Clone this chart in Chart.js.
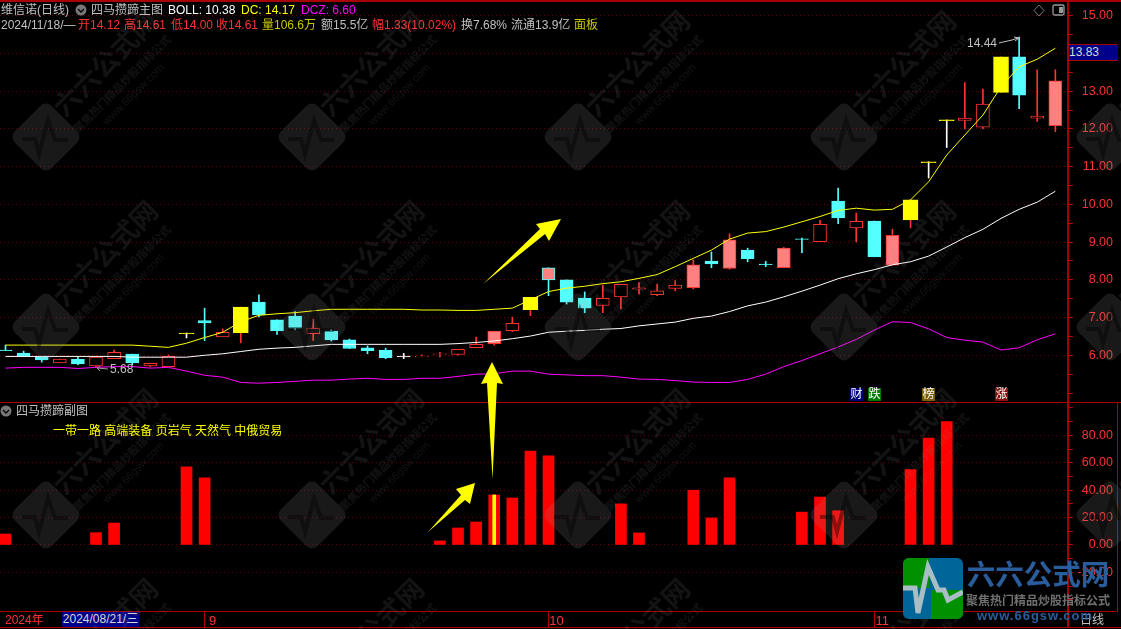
<!DOCTYPE html>
<html>
<head>
<meta charset="utf-8">
<title>四马攒蹄</title>
<script src="https://cdn.jsdelivr.net/npm/chart.js"></script>
<style>
    html, body { margin: 0; background: #000; width: 1121px; height: 629px; overflow: hidden; }
    canvas { position: absolute; left: 0; }
    #mainChart { top: 0; }
    #subChart { top: 403px; }
    .line { position: absolute; background: #a80000; }
    .txt { position: absolute; white-space: pre; font: 12px 'Liberation Sans', 'Noto Sans CJK SC', sans-serif; line-height: 14px; }
    svg { position: absolute; left: 0; top: 0; pointer-events: none; }
</style>
</head>
<body>
<canvas id="mainChart" width="1121" height="403"></canvas>
<canvas id="subChart" width="1121" height="226"></canvas>
<div id="frame"></div>
<div id="labels"></div>
<svg id="overlay" width="1121" height="629"></svg>

<script>
// Candles, index 0 = first bar on the left
const opens = [6.14, 6.06, 5.96, 5.80, 5.89, 5.72, 5.91, 6.03, 5.72, 5.70,
    6.59, 6.92, 6.49, 6.60, 7.41, 6.94, 7.04, 6.57, 6.64, 6.41,
    6.20, 6.14, 5.98, 5.96, 6.02, 6.02, 6.20, 6.31, 6.65, 7.21,
    8.00, 8.00, 7.52, 7.32, 7.55, 7.75, 7.61, 7.77, 7.79, 8.50,
    8.30, 8.79, 8.42, 8.32, 9.09, 9.01, 10.09, 9.38, 9.56, 8.39,
    9.59, 11.13, 12.24, 12.23, 12.05, 12.97, 13.91, 12.29, 12.09];
const closes = [6.12, 5.97, 5.88, 5.90, 5.77, 5.95, 6.08, 5.80, 5.79, 5.97,
    6.57, 6.86, 6.61, 7.28, 7.07, 6.65, 6.72, 6.72, 6.41, 6.18,
    6.12, 5.94, 5.96, 5.98, 6.04, 6.16, 6.29, 6.64, 6.85, 7.54,
    8.32, 7.41, 7.25, 7.51, 7.88, 7.79, 7.71, 7.86, 8.40, 8.42,
    9.06, 8.56, 8.40, 8.84, 9.07, 9.47, 9.64, 9.55, 8.61, 9.18,
    10.12, 11.11, 12.22, 12.29, 12.66, 13.91, 12.90, 12.34, 13.28];
const highs = [6.27, 6.11, 5.96, 5.90, 5.96, 5.95, 6.14, 6.03, 5.79, 6.01,
    6.59, 7.25, 6.70, 7.28, 7.60, 6.94, 7.16, 6.96, 6.68, 6.43,
    6.25, 6.19, 6.05, 6.01, 6.08, 6.16, 6.48, 6.64, 7.01, 7.54,
    8.32, 8.00, 7.68, 7.86, 7.88, 7.93, 7.89, 7.98, 8.53, 8.74,
    9.22, 8.84, 8.49, 8.86, 9.11, 9.58, 10.43, 9.77, 9.56, 9.34,
    10.12, 11.13, 12.24, 13.23, 13.06, 13.91, 14.44, 13.57, 13.57];
const lows = [6.12, 5.97, 5.82, 5.80, 5.75, 5.68, 5.91, 5.75, 5.69, 5.70,
    6.46, 6.39, 6.49, 6.33, 7.02, 6.55, 6.67, 6.39, 6.38, 6.18,
    6.04, 5.91, 5.91, 5.96, 5.96, 6.00, 6.20, 6.27, 6.63, 7.05,
    7.58, 7.36, 7.13, 7.13, 7.23, 7.63, 7.58, 7.71, 7.76, 8.32,
    8.28, 8.48, 8.35, 8.32, 8.72, 9.01, 9.49, 9.01, 8.61, 8.39,
    9.38, 10.70, 11.51, 12.00, 12.00, 12.97, 12.54, 12.20, 11.93];
// r hollow red, c cyan, p pink, m pink with cyan edge, y yellow, t flat yellow, w flat white
const kinds = ['c','c','c','r','c','r','r','c','r','r',
    't','c','r','y','c','c','c','r','c','c',
    'c','c','w','r','r','r','r','p','r','y',
    'm','c','c','r','r','r','r','r','p','c',
    'p','c','c','p','c','r','c','r','c','p',
    'y','t','t','r','r','y','c','r','p'];

const dcLine = [6.27, 6.27, 6.27, 6.27, 6.27, 6.27, 6.27, 6.27, 6.24, 6.21,
    6.32, 6.47, 6.61, 6.89, 7.06, 7.10, 7.13, 7.18, 7.22, 7.22,
    7.22, 7.22, 7.22, 7.20, 7.20, 7.19, 7.19, 7.22, 7.25, 7.47,
    7.69, 7.78, 7.83, 7.90, 7.95, 8.04, 8.14, 8.35, 8.57, 8.79,
    9.08, 9.24, 9.28, 9.40, 9.54, 9.68, 9.84, 9.90, 9.85, 9.87,
    10.12, 10.60, 11.31, 11.84, 12.37, 13.12, 13.65, 13.85, 14.14];
const bollLine = [5.97, 5.97, 5.97, 5.97, 5.97, 5.97, 5.97, 5.95, 5.95, 5.95,
    5.95, 6.00, 6.04, 6.10, 6.16, 6.19, 6.21, 6.25, 6.29, 6.29,
    6.29, 6.29, 6.29, 6.29, 6.29, 6.31, 6.34, 6.38, 6.44, 6.51,
    6.61, 6.64, 6.66, 6.69, 6.71, 6.78, 6.83, 6.88, 6.98, 7.04,
    7.16, 7.31, 7.41, 7.55, 7.70, 7.86, 8.03, 8.16, 8.27, 8.40,
    8.48, 8.63, 8.87, 9.12, 9.34, 9.63, 9.87, 10.06, 10.35];
const dczLine = [5.66, 5.68, 5.68, 5.68, 5.65, 5.68, 5.70, 5.70, 5.66, 5.68,
    5.58, 5.47, 5.42, 5.28, 5.26, 5.28, 5.31, 5.34, 5.34, 5.37,
    5.39, 5.36, 5.36, 5.39, 5.39, 5.44, 5.50, 5.51, 5.58, 5.58,
    5.50, 5.48, 5.46, 5.46, 5.42, 5.37, 5.36, 5.33, 5.29, 5.28,
    5.28, 5.36, 5.50, 5.70, 5.86, 6.04, 6.22, 6.42, 6.67, 6.89,
    6.87, 6.70, 6.47, 6.40, 6.35, 6.14, 6.20, 6.41, 6.57];

// Lower panel bars, index into the same candles
const subIndex = [0, 5, 6, 10, 11, 24, 25, 26, 27, 28, 29, 30, 34, 35, 38, 39, 40, 44, 45, 46, 50, 51, 52];
const subValues = [8, 9, 16, 57, 49, 3, 12.4, 16.8, 36.5, 34.3, 68.6, 65, 30, 8.8, 40, 19.7, 49, 24, 35, 25, 55, 78, 90];
const subMarked = [27];

const monthTicks = [11, 30, 48];
const monthLabels = ['9', '10', '11'];

const RED = '#ff3232';
const CYAN = '#54ffff';
const PINK = '#ff8080';
const YELLOW = '#ffff00';
const GRID = '#640000';
const AXIS = '#b00000';
const FONT = "'Liberation Sans', 'Noto Sans CJK SC', sans-serif";

const X_MIN = -0.304;
const X_MAX = 58.7;

const fillOf = { r: '#000', c: CYAN, p: PINK, m: PINK, y: YELLOW, t: YELLOW, w: '#fff' };
const edgeOf = { r: RED, c: CYAN, p: RED, m: CYAN, y: YELLOW, t: YELLOW, w: '#fff' };
const wickOf = { r: RED, c: CYAN, p: RED, m: CYAN, y: RED, t: '#fff', w: '#fff' };

function seriesLine(label, values, color) {
    return {
        type: 'line', label: label, order: 1,
        data: values.map((v, i) => ({ x: i, y: v })),
        borderColor: color, borderWidth: 1, pointRadius: 0, tension: 0
    };
}

function bodyBars(wanted, thickness, order) {
    const idx = kinds.map((k, i) => i).filter(i => wanted.includes(kinds[i]));
    return {
        type: 'bar', order: order, barThickness: thickness, grouped: false,
        data: idx.map(i => ({ x: i, y: [opens[i], closes[i]] })),
        backgroundColor: idx.map(i => fillOf[kinds[i]]),
        borderColor: idx.map(i => edgeOf[kinds[i]]),
        borderWidth: 1, borderSkipped: false
    };
}

// Labels are right aligned against the scale's right edge, so the canvas keeps 8px spare
function rightAxis(min, max, step, hasLabel, hasGrid) {
    return {
        position: 'right', min: min, max: max,
        border: { display: false, dash: [1, 3] },
        grid: {
            color: ctx => hasGrid(ctx.tick.value) ? GRID : 'transparent',
            tickColor: AXIS, tickLength: 5, lineWidth: 1
        },
        ticks: {
            stepSize: step, includeBounds: false, autoSkip: false,
            color: RED, font: { family: FONT, size: 12.5 }, crossAlign: 'far',
            callback: v => hasLabel(v) ? v.toFixed(2) : ''
        },
        afterFit: scale => { scale.width = 45; scale.paddingTop = 0; scale.paddingBottom = 0; }
    };
}

new Chart(document.getElementById('mainChart'), {
    data: {
        datasets: [
            seriesLine('DC', dcLine, YELLOW),
            seriesLine('BOLL', bollLine, '#ffffff'),
            seriesLine('DCZ', dczLine, '#ff00ff'),
            {
                type: 'bar', order: 4, barThickness: 1, grouped: false,
                data: kinds.map((k, i) => ({ x: i, y: [lows[i], highs[i]] })),
                backgroundColor: kinds.map(k => wickOf[k])
            },
            bodyBars(['r', 'c', 'p', 'm', 'w'], 13, 3),
            bodyBars(['y', 't'], 15, 0)
        ]
    },
    options: {
        responsive: false, animation: false,
        layout: { padding: { right: 8 } },
        plugins: { legend: { display: false }, tooltip: { enabled: false } },
        scales: {
            x: { type: 'linear', min: X_MIN, max: X_MAX, offset: false, display: false },
            y: rightAxis(4.735, 15.42, 0.5,
                v => Number.isInteger(v) && v >= 6 && v !== 14,
                v => Number.isInteger(v) && v >= 6)
        }
    }
});

new Chart(document.getElementById('subChart'), {
    data: {
        datasets: [
            {
                type: 'bar', order: 1, barThickness: 3, grouped: false,
                data: subMarked.map(i => ({ x: i, y: subValues[subIndex.indexOf(i)] })),
                backgroundColor: YELLOW
            },
            {
                type: 'bar', order: 2, barThickness: 11, grouped: false,
                data: subIndex.map((i, n) => ({ x: i, y: subValues[n] })),
                backgroundColor: '#ff0000'
            }
        ]
    },
    options: {
        responsive: false, animation: false,
        layout: { padding: { right: 8 } },
        plugins: { legend: { display: false }, tooltip: { enabled: false } },
        scales: {
            x: {
                type: 'linear', min: X_MIN, max: X_MAX, position: 'bottom', offset: false,
                border: { display: false },
                grid: { drawOnChartArea: false, offset: false, tickColor: AXIS, tickLength: 16 },
                afterBuildTicks: axis => { axis.ticks = monthTicks.map(v => ({ value: v })); },
                ticks: {
                    autoSkip: false, maxRotation: 0, padding: -13, labelOffset: 8,
                    color: RED, font: { family: FONT, size: 13 },
                    callback: v => monthLabels[monthTicks.indexOf(v)]
                },
                afterFit: scale => { scale.height = 18; scale.paddingLeft = 0; scale.paddingRight = 0; }
            },
            y: rightAxis(-48.2, 103.65, 10,
                v => v % 20 === 0 && v >= -20 && v <= 80,
                v => v % 20 === 0 && v >= -20 && v <= 80)
        }
    }
});

// Panel frame
const frameLines = [
    [0, 0, 1121, 2], [0, 402, 1121, 1], [0, 611, 1118, 1], [0, 627, 1121, 1],
    [1067, 0, 2, 628], [1117, 403, 1, 208], [1068, 44, 50, 1], [1068, 60, 50, 1]
];
document.getElementById('frame').innerHTML = frameLines.map(l =>
    `<div class="line" style="left:${l[0]}px;top:${l[1]}px;width:${l[2]}px;height:${l[3]}px"></div>`).join('');

// Header, annotations and price tag
const GRAY = '#c0c0c0';
const OLIVE = '#c8c800';
const textItems = [
    ['维信诺(日线)', 1, 3, GRAY], ['四马攒蹄主图', 91, 3, GRAY],
    ['BOLL: 10.38', 168, 3, '#fff'], ['DC: 14.17', 241, 3, YELLOW], ['DCZ: 6.60', 301, 3, '#ff00ff'],
    ['2024/11/18/—', 1, 18, GRAY], ['开14.12', 78, 18, RED], ['高14.61', 124, 18, RED],
    ['低14.00', 171, 18, RED], ['收14.61', 216, 18, RED], ['量106.6万', 262, 18, OLIVE],
    ['额15.5亿', 321, 18, GRAY], ['幅1.33(10.02%)', 372, 18, RED], ['换7.68%', 461, 18, GRAY],
    ['流通13.9亿', 511, 18, GRAY], ['面板', 574, 18, OLIVE],
    ['四马攒蹄副图', 16, 404, GRAY], ['一带一路 高端装备 页岩气 天然气 中俄贸易', 53, 424, YELLOW],
    ['14.44', 967, 36, GRAY], ['5.68', 110, 362, GRAY],
    ['2024年', 5, 613, RED], ['日线', 1080, 613, GRAY]
];
const boxItems = [
    ['13.83', 1069, 45, 49, 15, '#00008b', '#d8d8d8', 'left'],
    ['2024/08/21/三', 62, 612, 77, 15, '#00008b', '#d8d8d8', 'center'],
    ['财', 850, 388, 13, 13, '#00007a', '#fff', 'center'],
    ['跌', 868, 388, 13, 13, '#007a00', '#fff', 'center'],
    ['榜', 922, 388, 13, 13, '#7a5a00', '#fff', 'center'],
    ['涨', 995, 388, 13, 13, '#8a0f0f', '#fff', 'center']
];
document.getElementById('labels').innerHTML =
    textItems.map(t => `<div class="txt" style="left:${t[1]}px;top:${t[2]}px;color:${t[3]}">${t[0]}</div>`).join('') +
    boxItems.map(b => `<div class="txt" style="left:${b[1]}px;top:${b[2]}px;width:${b[3]}px;height:${b[4]}px;line-height:${b[4]}px;background:${b[5]};color:${b[6]};text-align:${b[7]}">${b[0]}</div>`).join('');

// Hand drawn arrows, icons and the site watermark
const tileX = [46, 312, 578, 844, 1110];
const tileY = [137, 327, 515, 705];
let svg = '';
tileY.forEach(y => tileX.forEach(x => {
    svg += `<g fill="rgba(150,150,150,0.13)" font-family="${FONT}" font-weight="bold" text-anchor="middle">
        <rect x="${x - 26}" y="${y - 26}" width="52" height="52" rx="8" fill="rgba(150,150,150,0.17)" transform="rotate(45 ${x} ${y})"/>
        <polyline points="${x - 24},${y + 2} ${x - 11},${y + 2} ${x - 7},${y + 17} ${x + 2},${y - 17} ${x + 9},${y + 3} ${x + 22},${y + 3}" fill="none" stroke="rgba(0,0,0,0.4)" stroke-width="4"/>
        <text x="${x + 60}" y="${y - 64}" font-size="27" transform="rotate(-45 ${x + 60} ${y - 73})">六六公式网</text>
        <text x="${x + 76}" y="${y - 49}" font-size="11" transform="rotate(-45 ${x + 76} ${y - 53})">聚焦热门精品炒股指标公式</text>
        <text x="${x + 87}" y="${y - 39}" font-size="11" font-weight="normal" transform="rotate(-45 ${x + 87} ${y - 43})">www.66gsw.com</text>
    </g>`;
}));
svg += `<g fill="${YELLOW}">
    <polygon points="483,284 540,229 536,224 561,219 549,241 545,234"/>
    <polygon points="492,362 503,384 497,383 492.5,479 487,383 481,384"/>
    <polygon points="428,532 461,495 456,489 475,483 470,504 465,500"/>
</g>`;
svg += `<circle cx="81" cy="10" r="5.5" fill="#777"/><polyline points="78,9 81,12 84,9" fill="none" stroke="#000" stroke-width="1.3"/>
    <circle cx="6" cy="411" r="5.5" fill="#777"/><polyline points="3,410 6,413 9,410" fill="none" stroke="#000" stroke-width="1.3"/>
    <polygon points="1039,5 1044,10.5 1039,16 1034,10.5" fill="none" stroke="#777"/>
    <rect x="1053" y="5" width="11" height="10" rx="1.5" fill="none" stroke="#999" stroke-width="1.3"/><rect x="1059" y="7" width="4" height="6" fill="#999"/>
    <polyline points="999,43 1012,40 1018,38" fill="none" stroke="#c0c0c0"/><polyline points="1014,37 1019,38 1015,41" fill="none" stroke="#c0c0c0"/>
    <line x1="108" y1="369" x2="97" y2="368" stroke="#999"/><polyline points="100,366 97,368 100,371" fill="none" stroke="#999"/>`;
svg += `<defs><clipPath id="logoClip"><rect x="903" y="558" width="60" height="61" rx="6"/></clipPath></defs>
    <g clip-path="url(#logoClip)">
        <rect x="903" y="558" width="60" height="61" fill="#006699"/>
        <rect x="903" y="558" width="26" height="30" fill="#009000"/>
        <rect x="931" y="590" width="32" height="29" fill="#009000"/>
        <polyline points="903,588 915,588 918,613 928,567 938,590 944,590 948,600 963,592" fill="none" stroke="#a9bdc4" stroke-width="5"/>
    </g>
    <g font-family="${FONT}" font-weight="bold" fill="#2a5d9c" text-anchor="middle">
        <text x="1038" y="585" font-size="28.5">六六公式网</text>
        <text x="1038" y="605" font-size="12" fill="#707070">聚焦热门精品炒股指标公式</text>
        <text x="1035" y="620" font-size="13" letter-spacing="1">www.66gsw.com</text>
    </g>`;
document.getElementById('overlay').innerHTML = svg;
</script>
</body>
</html>
